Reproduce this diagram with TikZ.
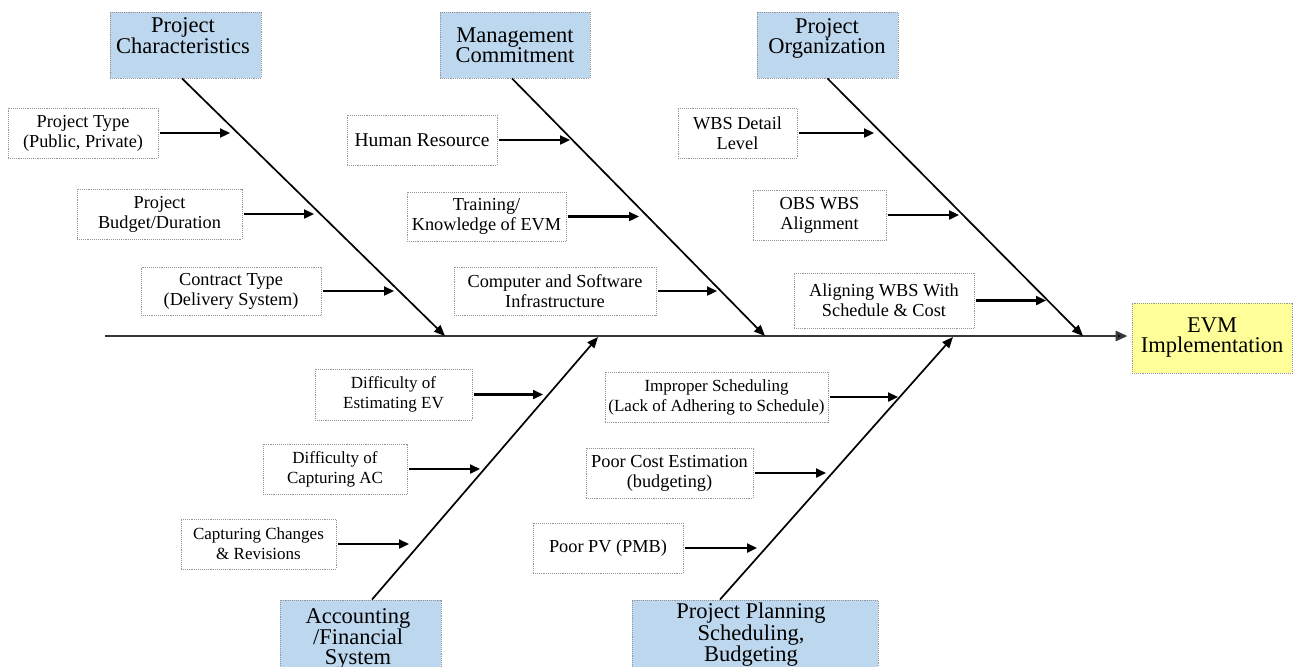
\documentclass[tikz,border=0pt]{standalone}
\usepackage{fontspec}
\setmainfont{Liberation Serif}
\usetikzlibrary{arrows.meta}
\definecolor{catblue}{RGB}{189,215,238}
\definecolor{effyellow}{RGB}{255,255,153}
\definecolor{rimgray}{RGB}{150,150,150}
\definecolor{spinegray}{RGB}{55,55,55}

\begin{document}
\begin{tikzpicture}[x=1pt,y=-1pt,
  box/.style={draw=rimgray, densely dotted, line width=0.9pt, inner sep=0pt, align=center},
  catbox/.style={box, fill=catblue, font=\fontsize{22.5}{20}\selectfont},
  effbox/.style={box, fill=effyellow, font=\fontsize{22.5}{20}\selectfont},
  catlabel/.style={inner sep=0pt, align=center, font=\fontsize{22.5}{20}\selectfont},
  causebox/.style={box, fill=white, font=\fontsize{18.3}{20}\selectfont},
  smallcause/.style={causebox, font=\fontsize{17}{20}\selectfont},
  bone/.style={line width=1.7pt, -{Triangle[length=11pt,width=9pt]}},
  spine/.style={line width=2.6pt, draw=spinegray, -{Triangle[length=12pt,width=10pt,fill=black]}},
  causearrow/.style={line width=2.3pt, shorten <=2pt, -{Triangle[length=10pt,width=9pt]}}
]
\clip (0,0) rectangle (1294,667);
\fill[white] (0,0) rectangle (1294,667);

% ---- category boxes ----
\node[catbox, minimum width=151, minimum height=66] (pc) at (185.5,45) {};
\node[catlabel, anchor=north] (pcl) at (183,17) {Project\\Characteristics};
\node[catbox, minimum width=150, minimum height=66] (mc) at (515,45) {Management\\Commitment};
\node[catbox, minimum width=141, minimum height=66] (po) at (827.5,45) {};
\node[catlabel, anchor=north] (pol) at (827,18) {Project\\Organization};
\node[catbox, minimum width=161, minimum height=90] (afs) at (360.5,645) {};
\node[catlabel, anchor=north] (afsl) at (358,608) {Accounting\\/Financial\\System};
\node[catbox, minimum width=246, minimum height=90] (pp) at (755,645) {};
\node[catlabel, anchor=north] (ppl) at (751,603) {Project Planning\\Scheduling,\\Budgeting};

% ---- effect ----
\node[effbox, minimum width=160, minimum height=70] (evm) at (1212,338) {EVM\\Implementation};

% ---- spine ----
\coordinate (spine0) at (105,336);
\draw[spine, shorten >=4pt] (spine0) -- (spine0 -| evm.west);

% ---- bones ----
\coordinate (pcj) at (445,336);
\coordinate (mcj) at (765,336);
\coordinate (poj) at (1083,336);
\coordinate (afj) at (598,337);
\coordinate (ppj) at (953,337);
\draw[bone] ([xshift=-3.5pt]pc.south) -- (pcj);
\draw[bone] ([xshift=-3pt]mc.south) -- (mcj);
\draw[bone] (po.south) -- (poj);
\draw[bone] ([xshift=11.5pt]afs.north) -- (afj);
\draw[bone] ([xshift=-35pt]pp.north) -- (ppj);

% ---- causes: project characteristics ----
\node[causebox, minimum width=150, minimum height=50] (c1) at (83,133) {Project Type\\(Public, Private)};
\node[causebox, minimum width=165, minimum height=50] (c2) at (159.5,214) {Project\\Budget/Duration};
\node[causebox, minimum width=180, minimum height=48] (c3) at (231,291) {Contract Type\\(Delivery System)};
\coordinate (t1) at (230,133);
\coordinate (t2) at (314,214);
\coordinate (t3) at (394,291);

% ---- causes: management commitment ----
\node[causebox, minimum width=150, minimum height=50, font=\fontsize{19.5}{20}\selectfont] (c4) at (422,140) {Human Resource};
\node[causebox, minimum width=159, minimum height=49] (c5) at (486.5,216.5) {Training/\\Knowledge of EVM};
\node[causebox, minimum width=202, minimum height=48] (c6) at (555,291) {Computer and Software\\Infrastructure};
\coordinate (t4) at (570,140);
\coordinate (t5) at (639,216.5);
\coordinate (t6) at (717,291);

% ---- causes: project organization ----
\node[causebox, minimum width=119, minimum height=50] (c7) at (737.5,133) {WBS Detail\\Level};
\node[causebox, minimum width=133, minimum height=50] (c8) at (819.5,215) {OBS WBS\\Alignment};
\node[causebox, minimum width=180, minimum height=55] (c9) at (884,300.5) {Aligning WBS With\\Schedule \& Cost};
\coordinate (t7) at (874,133);
\coordinate (t8) at (959,215);
\coordinate (t9) at (1046,300.5);

% ---- causes: accounting / financial system ----
\node[smallcause, minimum width=157, minimum height=51] (c10) at (393.5,394.5) {Difficulty of\\Estimating EV};
\node[smallcause, minimum width=144, minimum height=50] (c11) at (335,469) {Difficulty of\\Capturing AC};
\node[smallcause, minimum width=155, minimum height=50] (c12) at (258.5,544) {Capturing Changes\\\& Revisions};
\coordinate (t10) at (543,394.5);
\coordinate (t11) at (480,469);
\coordinate (t12) at (409,544);

% ---- causes: planning, scheduling, budgeting ----
\node[smallcause, minimum width=223, minimum height=50] (c13) at (716.5,397) {Improper Scheduling\\(Lack of Adhering to Schedule)};
\node[causebox, minimum width=167, minimum height=50] (c14) at (669.5,473) {Poor Cost Estimation\\(budgeting)};
\node[causebox, minimum width=150, minimum height=50] (c15) at (608,548) {Poor PV (PMB)};
\coordinate (t13) at (898,397);
\coordinate (t14) at (826,473);
\coordinate (t15) at (757,548);

\foreach \i in {1,...,15}{
  \draw[causearrow] (c\i) -- (t\i);
}
\end{tikzpicture}
\end{document}
